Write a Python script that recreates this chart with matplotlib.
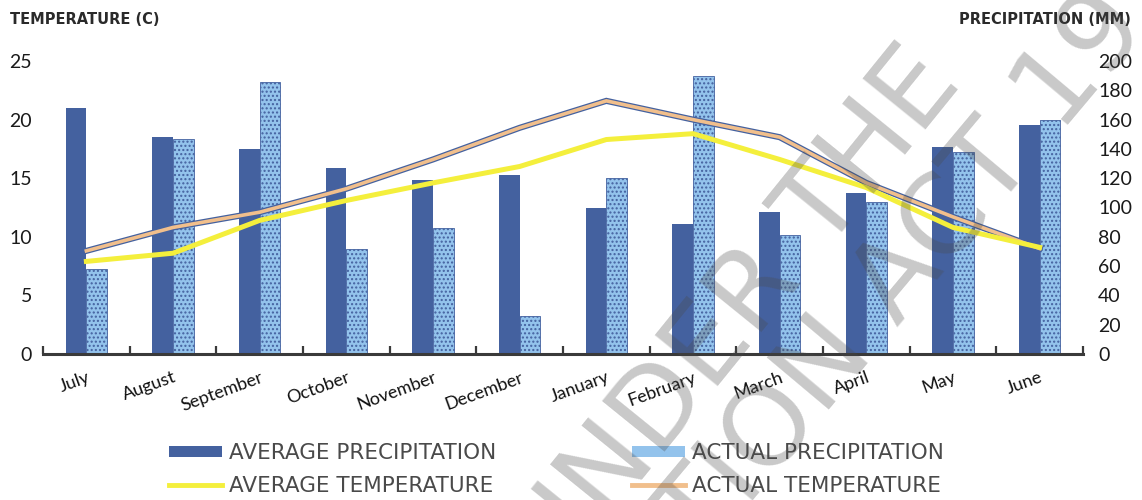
import matplotlib.pyplot as plt
import matplotlib.patheffects as pe
from matplotlib.lines import Line2D
from matplotlib.patches import Patch
import numpy as np

months = ['July', 'August', 'September', 'October', 'November', 'December',
          'January', 'February', 'March', 'April', 'May', 'June']

# precipitation in mm (right axis)
avg_precip = [168, 148, 140, 127, 119, 122, 100, 89, 97, 110, 141, 156]
actual_precip = [58, 147, 186, 72, 86, 26, 120, 190, 81, 104, 138, 160]

# temperature in degrees C (left axis)
avg_temp = [7.9, 8.6, 11.4, 13.1, 14.6, 16.0, 18.3, 18.8, 16.6, 14.2, 10.8, 9.1]
actual_temp = [8.8, 10.8, 12.1, 14.1, 16.6, 19.3, 21.6, 20.0, 18.5, 14.6, 11.7, 9.0]

temp_ticks = [0, 5, 10, 15, 20, 25]
precip_ticks = list(range(0, 201, 20))

DARK_BLUE = '#44619f'
LIGHT_BLUE = '#93c3ec'
YELLOW = '#f4ef3c'
ORANGE = '#f1bf8c'

plt.rcParams['font.family'] = ['Lato', 'DejaVu Sans']

fig = plt.figure(figsize=(11.42, 5.0), dpi=100)
ax = fig.add_axes([0.0377, 0.292, 0.9106, 0.586])
ax2 = ax.twinx()

x = np.arange(len(months))
w = 0.24

# bars go on the precipitation axis, lines on the temperature axis
ax2.bar(x - w / 2, avg_precip, width=w, color=DARK_BLUE, zorder=2)
ax2.bar(x + w / 2, actual_precip, width=w, color=LIGHT_BLUE,
        edgecolor=DARK_BLUE, hatch='....', linewidth=0.6, zorder=2)

ax.set_zorder(ax2.get_zorder() + 1)
ax.patch.set_visible(False)

ax.plot(x, actual_temp, color=ORANGE, linewidth=2.6, solid_joinstyle='miter',
        path_effects=[pe.Stroke(linewidth=4.4, foreground=DARK_BLUE), pe.Normal()],
        zorder=3)
ax.plot(x, avg_temp, color=YELLOW, linewidth=3.6, zorder=4)

ax.set_xlim(-0.5, len(months) - 0.5)
ax.set_ylim(0, 25)
ax2.set_ylim(0, 200)
ax.set_yticks(temp_ticks)
ax2.set_yticks(precip_ticks)

for a in (ax, ax2):
    for s in ('top', 'left', 'right', 'bottom'):
        a.spines[s].set_visible(False)

ax.spines['bottom'].set_visible(True)
ax.spines['bottom'].set_color('#3a3a3a')
ax.spines['bottom'].set_linewidth(2.2)

# tick marks sit on the category boundaries, labels on the centres
ax.set_xticks(np.arange(-0.5, len(months), 1.0))
ax.set_xticklabels([])
ax.tick_params(axis='x', which='major', direction='in', length=6, width=1.6,
               color='#3a3a3a')
ax.set_xticks(x, minor=True)
ax.set_xticklabels(months, minor=True, rotation=20, ha='right',
                   rotation_mode='anchor', fontsize=13, color='#111111')
ax.tick_params(axis='x', which='minor', length=0, pad=11)

ax.tick_params(axis='y', length=0, pad=8, labelsize=14, labelcolor='#1a1a1a')
ax2.tick_params(axis='y', length=0, pad=11, labelsize=14, labelcolor='#1a1a1a')

fig.text(0.009, 0.962, 'TEMPERATURE (C)', fontsize=10.5, fontweight='bold',
         family='DejaVu Sans', color='#2a2a2a', ha='left', va='center')
fig.text(0.99, 0.962, 'PRECIPITATION (MM)', fontsize=10.5, fontweight='bold',
         family='DejaVu Sans', color='#2a2a2a', ha='right', va='center')

handles = [
    Patch(facecolor=DARK_BLUE, edgecolor='none'),
    Line2D([], [], color=YELLOW, linewidth=3.5),
    Patch(facecolor=LIGHT_BLUE, edgecolor='none'),
    Line2D([], [], color=ORANGE, linewidth=3.5),
]
labels = ['AVERAGE PRECIPITATION', 'AVERAGE TEMPERATURE',
          'ACTUAL PRECIPITATION', 'ACTUAL TEMPERATURE']
leg = fig.legend(handles, labels, ncol=2, loc='center',
                 bbox_to_anchor=(0.487, 0.061), frameon=False,
                 prop={'family': 'DejaVu Sans', 'size': 15.5},
                 handlelength=2.5, handleheight=0.4, handletextpad=0.3,
                 columnspacing=6.3, labelspacing=0.6, borderpad=0)
for t in leg.get_texts():
    t.set_color('#4a4a4a')

# faint stamp across the chart
stamp = dict(fontsize=79, family='DejaVu Sans', color='#4a4a4a', alpha=0.3,
             rotation_mode='anchor', ha='center', va='center', zorder=10)
fig.text(0.645, 0.37, 'UNDER THE', rotation=51, **stamp)
fig.text(0.772, 0.40, 'ATION ACT 19', rotation=50, **stamp)

fig.savefig('out.png', dpi=100)
